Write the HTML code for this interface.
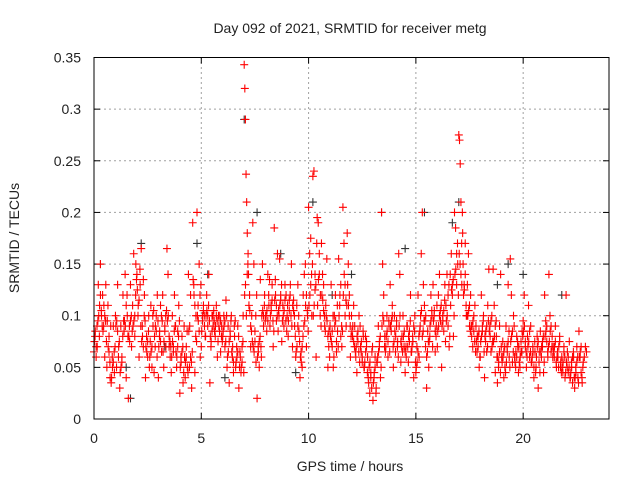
<!DOCTYPE html>
<html><head><meta charset="utf-8"><style>
html,body{margin:0;padding:0;background:#fff;}
svg text{font-family:"Liberation Sans",sans-serif;fill:#222;}
</style></head><body>
<svg id="chart" width="640" height="480" viewBox="0 0 640 480" xmlns="http://www.w3.org/2000/svg">
<rect width="640" height="480" fill="#fff"/>
<text x="350" y="33" font-size="14" text-anchor="middle">Day 092 of 2021, SRMTID for receiver metg</text>
<text transform="translate(19,238) rotate(-90)" font-size="14" text-anchor="middle">SRMTID / TECUs</text>
<text x="350" y="471" font-size="14" text-anchor="middle">GPS time / hours</text>
<g id="grid"></g>
<g id="ticks"></g>
<g id="blackPts"></g>
<g id="redPts"></g>
<rect x="94" y="57.5" width="515" height="361.5" fill="none" stroke="#000" stroke-width="1"/>
</svg>
<script>
const xTicks=[0,5,10,15,20];
const yTicks=[0,0.05,0.1,0.15,0.2,0.25,0.3,0.35];
const yTickLabels=["0","0.05","0.1","0.15","0.2","0.25","0.3","0.35"];
const binWidth=0.2;
const redTEC=[
[.065,.08,.06,.07],[.13,.08,.15,.10],[.12,.09,.06,.13],[.05,.11,.08,.04],[.035,.06,.09,.045],
[.10,.05,.13,.07],[.03,.09,.06,.12],[.085,.14,.04,.10],[.02,.09,.13,.07],[.11,.16,.08,.15],
[.14,.10,.06,.13],[.165,.09,.07,.12],[.04,.08,.06,.10],[.06,.11,.05,.09],[.045,.07,.10,.12],
[.04,.08,.11,.065],[.12,.05,.09,.07],[.165,.14,.07,.06],[.045,.10,.065,.12],[.09,.05,.07,.11],
[.025,.06,.08,.035],[.09,.04,.06,.05],[.14,.05,.12,.03],[.19,.13,.045,.10],[.20,.11,.15,.06],
[.07,.10,.11,.09],[.08,.12,.10,.14],[.035,.07,.10,.09],[.095,.08,.11,.06],[.10,.085,.065,.09],
[.08,.10,.07,.115],[.05,.09,.035,.08],[.10,.06,.045,.08],[.05,.07,.09,.03],[.065,.045,.055,.10],
[.343,.32,.29,.237,.21,.18,.15],[.14,.12,.07,.10],[.19,.15,.085,.055],[.02,.07,.05,.135],[.06,.15,.10,.12],
[.10,.085,.14,.11],[.09,.11,.13,.07],[.185,.135,.095,.16],[.105,.155,.12,.075],[.11,.09,.13,.12],
[.10,.08,.115,.13],[.15,.07,.105,.09],[.06,.11,.13,.085],[.04,.065,.05,.12],[.14,.15,.07,.10],
[.205,.16,.175,.10],[.235,.24,.14,.06],[.195,.19,.16,.12],[.17,.14,.13,.09],[.11,.155,.05,.085],
[.09,.13,.07,.05],[.10,.12,.065,.085],[.155,.11,.08,.07],[.205,.17,.13,.09],[.18,.15,.12,.06],
[.10,.08,.11,.09],[.06,.045,.075,.10],[.09,.065,.055,.08],[.05,.08,.07,.06],[.035,.025,.045,.065],
[.018,.04,.06,.03],[.055,.09,.07,.04],[.2,.15,.12,.08],[.07,.10,.06,.09],[.13,.085,.11,.05],
[.10,.065,.09,.075],[.16,.14,.055,.08],[.10,.07,.045,.06],[.09,.055,.075,.12],[.065,.08,.04,.10],
[.045,.07,.12,.06],[.09,.16,.20,.13],[.11,.07,.03,.085],[.05,.08,.12,.10],[.13,.10,.065,.09],
[.07,.12,.14,.095],[.05,.10,.085,.13],[.11,.14,.09,.07],[.14,.16,.12,.08],[.2,.185,.13,.15],
[.275,.27,.247,.21,.17,.20],[.15,.13,.17,.10],[.13,.16,.09,.12],[.08,.07,.10,.11],[.09,.065,.08,.05],
[.06,.12,.085,.10],[.04,.075,.09,.11],[.145,.09,.065,.07],[.145,.11,.045,.08],[.035,.05,.09,.14],
[.06,.075,.04,.05],[.09,.07,.13,.06],[.155,.12,.055,.10],[.06,.05,.08,.07],[.07,.05,.065,.085],
[.095,.12,.07,.05],[.08,.11,.06,.09],[.055,.07,.04,.065],[.05,.08,.03,.065],[.085,.06,.07,.045],
[.12,.095,.075,.06],[.14,.10,.065,.08],[.07,.06,.09,.05],[.065,.05,.08,.055],[.06,.045,.07,.04],
[.12,.05,.06,.075],[.04,.055,.035,.06],[.03,.05,.07,.04],[.085,.06,.045,.035],[.055,.07]
];
const redTEC2=[
[.075,.085,.07,.09,.095],[.10,.11,.12,.105,.09],[.085,.11,.1,.095,.075],[.095,.07,.065,.055,.09],[.04,.05,.055,.065,.07],
[.09,.095,.085,.06,.075],[.045,.05,.055,.08,.095],[.095,.09,.11,.12,.08],[.08,.075,.095,.1,.085],[.09,.095,.1,.12,.135],
[.125,.11,.115,.145,.09],[.075,.08,.135,.1,.095],[.07,.065,.075,.085,.05],[.075,.065,.07,.1,.105],[.08,.09,.085,.06,.095],
[.07,.085,.075,.1,.095],[.065,.075,.085,.1,.105],[.095,.1,.08,.075,.07],[.06,.075,.07,.085,.09],[.065,.06,.085,.08,.095],
[.05,.055,.065,.07,.045],[.06,.055,.07,.085,.045],[.085,.09,.06,.055,.065],[.135,.12,.11,.08,.075],[.1,.095,.085,.12,.13],
[.085,.095,.105,.1,.08],[.1,.105,.09,.11,.095],[.08,.075,.085,.1,.105],[.085,.09,.1,.095,.075],[.09,.1,.095,.08,.075],
[.085,.09,.095,.075,.1],[.06,.065,.075,.085,.095],[.065,.07,.055,.09,.095],[.055,.06,.065,.08,.05],[.06,.05,.07,.075,.045],
[.12,.13,.1,.14,.16],[.11,.105,.09,.085,.075],[.07,.065,.075,.1,.12],[.06,.065,.075,.08,.07],[.1,.105,.09,.11,.095],
[.1,.105,.095,.12,.135],[.1,.105,.115,.095,.085],[.115,.12,.11,.1,.085],[.1,.11,.115,.13,.095],[.1,.105,.115,.095,.085],
[.11,.095,.105,.12,.1],[.09,.11,.115,.1,.08],[.065,.07,.09,.1,.075],[.06,.055,.07,.08,.09],[.095,.11,.12,.105,.085],
[.11,.12,.13,.14,.15],[.1,.11,.125,.13,.17],[.11,.135,.14,.1,.09],[.12,.115,.105,.1,.085],[.1,.095,.08,.07,.06],
[.08,.075,.085,.1,.06],[.09,.095,.075,.11,.07],[.1,.12,.13,.09,.085],[.12,.14,.1,.115,.11],[.13,.11,.1,.09,.08],
[.085,.09,.075,.07,.065],[.07,.08,.085,.065,.055],[.07,.075,.06,.085,.05],[.055,.065,.075,.045,.04],[.05,.055,.04,.03,.07],
[.035,.045,.05,.025,.055],[.06,.065,.075,.08,.05],[.09,.1,.095,.07,.065],[.08,.085,.075,.095,.065],[.09,.095,.1,.07,.075],
[.085,.08,.095,.07,.06],[.09,.1,.075,.07,.065],[.08,.085,.065,.07,.09],[.07,.08,.085,.095,.065],[.07,.075,.09,.085,.055],
[.05,.055,.065,.08,.085],[.1,.105,.08,.085,.095],[.095,.1,.06,.065,.075],[.075,.09,.095,.105,.07],[.095,.105,.085,.08,.11],
[.085,.09,.1,.105,.11],[.09,.095,.105,.115,.075],[.095,.1,.12,.13,.08],[.11,.125,.13,.135,.1],[.14,.145,.16,.17,.12],
[.16,.15,.14,.13,.18],[.12,.125,.14,.11,.1],[.1,.105,.11,.085,.09],[.09,.095,.085,.075,.065],[.075,.08,.07,.085,.06],
[.075,.08,.09,.095,.065],[.08,.085,.065,.07,.095],[.085,.08,.095,.1,.075],[.075,.08,.09,.095,.06],[.06,.055,.065,.045,.07],
[.055,.06,.065,.07,.045],[.055,.065,.075,.085,.05],[.075,.08,.085,.065,.09],[.055,.065,.06,.075,.045],[.055,.06,.075,.065,.08],
[.085,.09,.075,.065,.06],[.07,.075,.085,.065,.055],[.06,.065,.05,.075,.045],[.06,.07,.075,.055,.045],[.065,.07,.075,.08,.055],
[.08,.085,.09,.065,.07],[.075,.085,.09,.07,.06],[.065,.07,.075,.055,.06],[.06,.07,.075,.05,.045],[.05,.055,.065,.06,.045],
[.055,.065,.045,.05,.04],[.045,.05,.06,.065,.04],[.04,.045,.055,.06,.035],[.06,.065,.07,.04,.05],[.06,.065]
];
const blackHours=[7.0,7.6,0.3,1.7,10.2,15.4,17.0,13.4,1.5,4.8,9.4,14.5,21.8,20.0,6.1,3.3,12.0,18.8,16.7,8.7,2.2,5.3,11.1,19.3];
const blackTEC=[.29,.2,.15,.02,.21,.20,.21,.2,.05,.17,.045,.165,.12,.14,.04,.07,.14,.13,.19,.16,.17,.14,.12,.15];

const X0=94,X1=609,Y0=419,Y1=57.5;
const xs=h=>X0+h/24*(X1-X0);
const ys=v=>Y0-v/0.35*(Y0-Y1);
const NS="http://www.w3.org/2000/svg";
function mk(tag,attrs,parent){const e=document.createElementNS(NS,tag);for(const k in attrs)e.setAttribute(k,attrs[k]);parent.appendChild(e);return e;}
const grid=document.getElementById('grid'),ticks=document.getElementById('ticks');
xTicks.forEach(t=>{
  const x=xs(t);
  if(t>0){const g=mk('line',{x1:x,x2:x,y1:Y0,y2:Y1,stroke:'#a0a0a0','stroke-dasharray':'2,3'},grid);
  
  }
  mk('line',{x1:x,x2:x,y1:Y0,y2:Y0-6,stroke:'#000'},ticks);
  mk('line',{x1:x,x2:x,y1:Y1,y2:Y1+6,stroke:'#000'},ticks);
  const tx=mk('text',{x:x,y:443,'font-size':14,'text-anchor':'middle'},ticks);
  tx.textContent=t;
  
  
});
yTicks.forEach((t,i)=>{
  const y=ys(t);
  if(t>0&&t<0.35){const g=mk('line',{x1:X0,x2:X1,y1:y,y2:y,stroke:'#a0a0a0','stroke-dasharray':'2,3'},grid);
  
  }
  mk('line',{x1:X0,x2:X0+6,y1:y,y2:y,stroke:'#000'},ticks);
  mk('line',{x1:X1,x2:X1-6,y1:y,y2:y,stroke:'#000'},ticks);
  const tx=mk('text',{x:81,y:y+5,'font-size':14,'text-anchor':'end'},ticks);
  tx.textContent=yTickLabels[i];
  
  
});
function plus(parent,h,v,col){
  const x=xs(h),y=ys(v);
  const p=mk('path',{d:`M${x-4},${y}H${x+4}M${x},${y-4}V${y+4}`,stroke:col,'stroke-width':1.1,fill:'none'},parent);
  
  
}
const bp=document.getElementById('blackPts');
blackHours.forEach((h,i)=>plus(bp,h,blackTEC[i],'#333'));
const rp=document.getElementById('redPts');
redTEC.forEach((vals,b)=>{vals.forEach((v,k)=>plus(rp,b*binWidth+k*binWidth/vals.length,v,'#ff0000'));});
redTEC2.forEach((vals,b)=>{vals.forEach((v,k)=>plus(rp,b*binWidth+(k+0.5)*binWidth/vals.length,v,'#ff0000'));});
</script>
</body></html>
